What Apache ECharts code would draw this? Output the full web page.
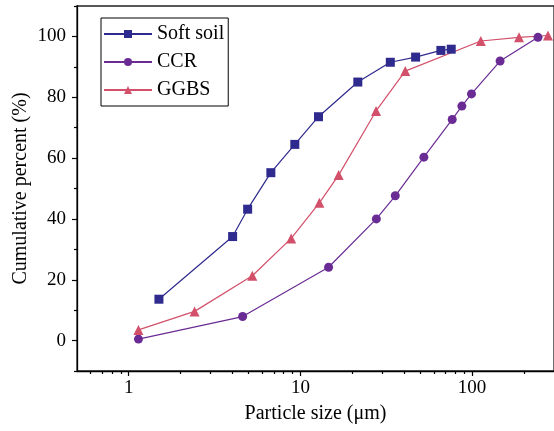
<!DOCTYPE html>
<html><head><meta charset="utf-8">
<script src="https://cdn.jsdelivr.net/npm/echarts@6/dist/echarts.min.js"></script>
<style>html,body{margin:0;padding:0;background:#fff}#c{width:554px;height:431px}</style>
</head><body><div id="c"></div>
<script>
// Data (particle size in μm, cumulative percent)
const seriesNames = ['Soft soil', 'CCR', 'GGBS'];
const xSoft = [1.50, 4.03, 4.93, 6.73, 9.28, 12.75, 21.6, 33.4, 46.9, 65.8, 75.6];
const ySoft = [13.6, 34.2, 43.2, 55.2, 64.5, 73.6, 85.0, 91.5, 93.2, 95.4, 95.8];
const xCCR = [1.14, 4.61, 14.6, 27.7, 35.7, 52.4, 76.6, 87.2, 99.2, 145.6, 242];
const yCCR = [0.5, 7.9, 24.1, 40.0, 47.6, 60.3, 72.7, 77.1, 81.1, 91.9, 99.7];
const xGGBS = [1.14, 2.42, 5.25, 8.84, 12.9, 16.7, 27.6, 40.8, 112.4, 187.7, 276.7];
const yGGBS = [3.5, 9.6, 21.3, 33.6, 45.3, 54.4, 75.5, 88.6, 98.5, 99.7, 100.3];
// Axis ticks
const xMajor = [1, 10, 100];
const xMinor = [0.6, 0.7, 0.8, 0.9, 2, 3, 4, 5, 6, 7, 8, 9, 20, 30, 40, 50, 60, 70, 80, 90, 200];
const yMajor = [0, 20, 40, 60, 80, 100];
const yMinor = [-10, 10, 30, 50, 70, 90, 110];

const font = '"Liberation Serif", "Times New Roman", serif';
const pair = (xs, ys) => xs.map((x, i) => [x, ys[i]]);

const chart = echarts.init(document.getElementById('c'), null, {renderer: 'canvas'});
chart.setOption({
  animation: false,
  backgroundColor: '#fff',
  grid: {left: 77, top: 6, width: 478, height: 365, show: true, borderColor: '#222', borderWidth: 1.3, backgroundColor: 'transparent'},
  legend: {
    left: 101, top: 18, orient: 'vertical',
    itemWidth: 48, itemHeight: 10, itemGap: 8,
    padding: [6, 4, 6, 2],
    borderColor: '#000', borderWidth: 1,
    textStyle: {fontFamily: font, fontSize: 20, color: '#000', lineHeight: 18},
    data: seriesNames
  },
  xAxis: [{
    type: 'log', logBase: 10, min: 0.5, max: 300, position: 'bottom',
    name: 'Particle size (μm)', nameLocation: 'middle', nameGap: 33, nameMoveOverlap: false,
    nameTextStyle: {fontFamily: font, fontSize: 20, color: '#000'},
    axisLine: {onZero: false, lineStyle: {color: '#000', width: 1.3}},
    axisTick: {inside: false, length: 5, customValues: xMajor, lineStyle: {color: '#000', width: 1.2}},
    axisLabel: {customValues: xMajor, fontFamily: font, fontSize: 19, color: '#000', margin: 8},
    splitLine: {show: false}, minorTick: {show: false}
  }, {
    type: 'log', logBase: 10, min: 0.5, max: 300, position: 'bottom',
    axisLine: {show: false, onZero: false},
    axisTick: {inside: false, length: 3, customValues: xMinor, lineStyle: {color: '#000', width: 1.2}},
    axisLabel: {show: false},
    splitLine: {show: false}
  }],
  yAxis: [{
    type: 'value', min: -10, max: 110, position: 'left',
    name: 'Cumulative percent (%)', nameLocation: 'middle', nameGap: 46, nameMoveOverlap: false,
    nameTextStyle: {fontFamily: font, fontSize: 20, color: '#000'},
    axisLine: {show: true, onZero: false, lineStyle: {color: '#000', width: 1.3}},
    axisTick: {show: true, inside: false, length: 5, customValues: yMajor, lineStyle: {color: '#000', width: 1.2}},
    axisLabel: {customValues: yMajor, fontFamily: font, fontSize: 19, color: '#000', margin: 11},
    splitLine: {show: false}
  }, {
    type: 'value', min: -10, max: 110, position: 'left',
    axisLine: {show: false, onZero: false},
    axisTick: {show: true, inside: false, length: 3, customValues: yMinor, lineStyle: {color: '#000', width: 1.2}},
    axisLabel: {show: false},
    splitLine: {show: false}
  }],
  series: [{
    name: 'Soft soil', type: 'line', xAxisIndex: 0, yAxisIndex: 0,
    data: pair(xSoft, ySoft), symbol: 'rect', symbolSize: 9,
    itemStyle: {color: '#2F2A8D'}, lineStyle: {color: '#2F2A8D', width: 1.2}
  }, {
    name: 'CCR', type: 'line', xAxisIndex: 0, yAxisIndex: 0,
    data: pair(xCCR, yCCR), symbol: 'circle', symbolSize: 9,
    itemStyle: {color: '#6A2C94'}, lineStyle: {color: '#6A2C94', width: 1.2}
  }, {
    name: 'GGBS', type: 'line', xAxisIndex: 0, yAxisIndex: 0,
    data: pair(xGGBS, yGGBS), symbol: 'triangle', symbolSize: 10,
    itemStyle: {color: '#D2506A'}, lineStyle: {color: '#D2506A', width: 1.2}
  }]
});
</script></body></html>
